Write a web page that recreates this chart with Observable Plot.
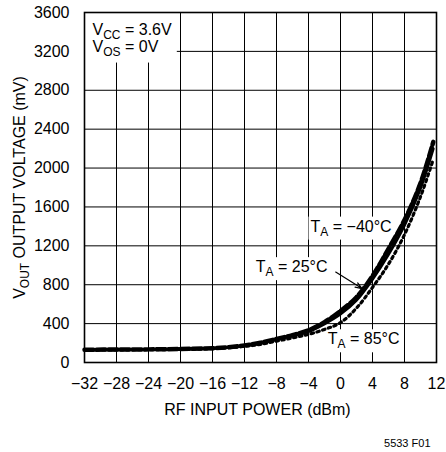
<!DOCTYPE html>
<html>
<head>
<meta charset="utf-8">
<script src="https://cdn.jsdelivr.net/npm/d3@7"></script>
<script src="https://cdn.jsdelivr.net/npm/@observablehq/plot@0.6"></script>
<style>
  html, body { margin: 0; padding: 0; background: white; }
</style>
</head>
<body>
<div id="chart"></div>
<script>
// ---- data ----
const xTicks = [-32, -28, -24, -20, -16, -12, -8, -4, 0, 4, 8, 12];
const xTickLabels = ["\u221232", "\u221228", "\u221224", "\u221220", "\u221216", "\u221212", "\u22128", "\u22124", "0", "4", "8", "12"];
const yTicks = [0, 400, 800, 1200, 1600, 2000, 2400, 2800, 3200, 3600];
const yTickLabels = ["0", "400", "800", "1200", "1600", "2000", "2400", "2800", "3200", "3600"];

const power = [-32, -28, -24, -20, -16, -14, -12, -10, -8, -6, -4, -2, 0, 2, 4, 6, 8, 10, 11.6];
const voutMinus40 = [132, 133, 135, 139, 147, 158, 176, 203, 242, 282, 332, 415, 530, 672, 890, 1170, 1465, 1845, 2270];
const vout25 = [130, 131, 133, 137, 145, 155, 172, 198, 236, 273, 318, 397, 497, 640, 855, 1110, 1410, 1790, 2200];
const vout85 = [129, 130, 132, 135, 142, 152, 166, 186, 220, 253, 290, 340, 410, 560, 772, 1012, 1315, 1705, 2090];

const xLabel = "RF INPUT POWER (dBm)";
const yLabel = "V_{OUT} OUTPUT VOLTAGE (mV)";
const conditions = ["V_{CC} = 3.6V", "V_{OS} = 0V"];
const seriesLabels = [
  {text: "T_{A} = \u221240\u00B0C", x: -3.75, y: 1399},
  {text: "T_{A} = 25\u00B0C", x: -10.6, y: 982},
  {text: "T_{A} = 85\u00B0C", x: -1.6, y: 240}
];
const arrowData = [{x1: -0.6, y1: 930, x2: 2.7, y2: 760}];
const legendBox = [{x1: -32, x2: -20.4, y1: 3080, y2: 3600}];
const caption = "5533 F01";

const xFmt = new Map(xTicks.map((t, i) => [t, xTickLabels[i]]));
const yFmt = new Map(yTicks.map((t, i) => [t, yTickLabels[i]]));

const chart = Plot.plot({
  width: 446,
  height: 452,
  marginLeft: 84,
  marginRight: 10,
  marginTop: 12,
  marginBottom: 90,
  style: {fontFamily: "'Liberation Sans', Arial, sans-serif", fontSize: "16px", background: "white", color: "black"},
  x: {domain: [-32, 12], ticks: xTicks, tickFormat: d => xFmt.get(d), tickSize: 0, tickPadding: 15, label: null},
  y: {domain: [0, 3600], ticks: yTicks, tickFormat: d => yFmt.get(d), tickSize: 0, tickPadding: 15, label: null},
  marks: [
    Plot.ruleX(xTicks, {stroke: "black", strokeWidth: 1}),
    Plot.ruleY(yTicks, {stroke: "black", strokeWidth: 1}),
    Plot.rect(legendBox, {x1: "x1", x2: "x2", y1: "y1", y2: "y2", fill: "white"}),
    Plot.frame({stroke: "black", strokeWidth: 1.6}),
    Plot.text(seriesLabels, {x: "x", y: "y", text: "text", textAnchor: "start", lineAnchor: "middle", fill: "black"}),
    Plot.line(power, {x: d => d, y: (d, i) => vout85[i], stroke: "black", strokeWidth: 3.2, strokeDasharray: "2.5,3.5", curve: "catmull-rom"}),
    Plot.line(power, {x: d => d, y: (d, i) => vout25[i], stroke: "black", strokeWidth: 2.8, curve: "catmull-rom"}),
    Plot.line(power, {x: d => d, y: (d, i) => voutMinus40[i], stroke: "black", strokeWidth: 4.5, strokeDasharray: "9,3", curve: "catmull-rom"}),
    Plot.arrow(arrowData, {x1: "x1", y1: "y1", x2: "x2", y2: "y2", stroke: "black", strokeWidth: 1.2, headLength: 9, headAngle: 40}),
    Plot.text([conditions[0]], {frameAnchor: "top-left", dx: 8, dy: 17.5, textAnchor: "start", lineAnchor: "middle", fill: "black"}),
    Plot.text([conditions[1]], {frameAnchor: "top-left", dx: 8, dy: 34.5, textAnchor: "start", lineAnchor: "middle", fill: "black"}),
    Plot.text([xLabel], {frameAnchor: "bottom", dx: -3, dy: 47, textAnchor: "middle", lineAnchor: "middle", fill: "black"}),
    Plot.text([yLabel], {frameAnchor: "left", dx: -65, rotate: -90, textAnchor: "middle", lineAnchor: "middle", fill: "black"}),
    Plot.text([caption], {frameAnchor: "bottom-right", dx: -6, dy: 80.5, textAnchor: "end", lineAnchor: "middle", fontSize: 11, fill: "black"})
  ]
});

// turn "_{...}" into subscripts
const ns = "http://www.w3.org/2000/svg";
chart.querySelectorAll("text").forEach(t => {
  const s = t.textContent;
  if (!s.includes("_{")) return;
  const parts = s.split(/_\{([^}]*)\}/);
  while (t.firstChild) t.removeChild(t.firstChild);
  let shifted = false;
  parts.forEach((p, i) => {
    if (p === "") return;
    const ts = document.createElementNS(ns, "tspan");
    ts.textContent = p;
    if (i % 2 === 1) {
      ts.setAttribute("font-size", "12px");
      ts.setAttribute("dy", "4");
      shifted = true;
    } else if (shifted) {
      ts.setAttribute("dy", "-4");
      shifted = false;
    }
    t.appendChild(ts);
  });
});

document.getElementById("chart").appendChild(chart);

// white boxes behind the temperature labels (hide grid lines, as in the reference)
chart.querySelectorAll("text").forEach(t => {
  if (!/\u00B0C/.test(t.textContent)) return;
  const b = t.getBBox();
  const r = document.createElementNS(ns, "rect");
  r.setAttribute("x", b.x - 2);
  r.setAttribute("y", b.y - 1);
  r.setAttribute("width", b.width + 4);
  r.setAttribute("height", b.height + 2);
  r.setAttribute("fill", "white");
  const tr = t.getAttribute("transform");
  if (tr) r.setAttribute("transform", tr);
  t.parentNode.insertBefore(r, t);
});
</script>
</body>
</html>
